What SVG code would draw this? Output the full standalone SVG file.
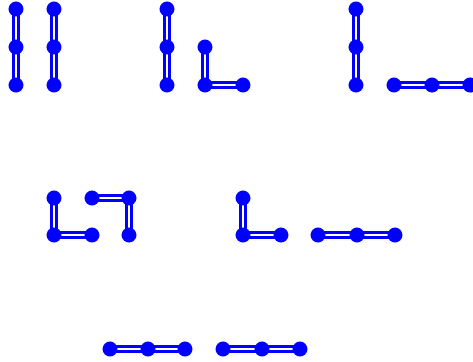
<svg xmlns="http://www.w3.org/2000/svg" width="473" height="362" viewBox="0 0 473 362">
<style>
.e{fill:none;stroke-linecap:butt;stroke-linejoin:miter}
.o{stroke:#0000ff;stroke-width:8}
.i{stroke:#ffffff;stroke-width:2}
.n{fill:#0000ff}
</style>
<defs>
<path id="p" d="M16,9V85 M54,9V85 M167,9V85 M205,47V85H243 M356,9V85 M394,85H470 M54,198V235H92 M92,198H129V235 M243,198V235H281 M318,235H395 M110,349H185 M223,349H300"/>
</defs>
<g id="connectors" class="e">
<use href="#p" class="o"/>
<use href="#p" class="i"/>
</g>
<g id="nodes" class="n">
<g id="a1"><circle cx="16" cy="9" r="7.5"/><circle cx="16" cy="47" r="7.5"/><circle cx="16" cy="85" r="7.5"/></g>
<g id="a2"><circle cx="54" cy="9" r="7.5"/><circle cx="54" cy="47" r="7.5"/><circle cx="54" cy="85" r="7.5"/></g>
<g id="b1"><circle cx="167" cy="9" r="7.5"/><circle cx="167" cy="47" r="7.5"/><circle cx="167" cy="85" r="7.5"/></g>
<g id="b2"><circle cx="205" cy="47" r="7.5"/><circle cx="205" cy="85" r="7.5"/><circle cx="243" cy="85" r="7.5"/></g>
<g id="c1"><circle cx="356" cy="9" r="7.5"/><circle cx="356" cy="47" r="7.5"/><circle cx="356" cy="85" r="7.5"/></g>
<g id="c2"><circle cx="394" cy="85" r="7.5"/><circle cx="432" cy="85" r="7.5"/><circle cx="470" cy="85" r="7.5"/></g>
<g id="d1"><circle cx="54" cy="198" r="7.5"/><circle cx="54" cy="235" r="7.5"/><circle cx="92" cy="235" r="7.5"/></g>
<g id="d2"><circle cx="92" cy="198" r="7.5"/><circle cx="129" cy="198" r="7.5"/><circle cx="129" cy="235" r="7.5"/></g>
<g id="e1"><circle cx="243" cy="198" r="7.5"/><circle cx="243" cy="235" r="7.5"/><circle cx="281" cy="235" r="7.5"/></g>
<g id="e2"><circle cx="318" cy="235" r="7.5"/><circle cx="357" cy="235" r="7.5"/><circle cx="395" cy="235" r="7.5"/></g>
<g id="f1"><circle cx="110" cy="349" r="7.5"/><circle cx="148" cy="349" r="7.5"/><circle cx="185" cy="349" r="7.5"/></g>
<g id="f2"><circle cx="223" cy="349" r="7.5"/><circle cx="262" cy="349" r="7.5"/><circle cx="300" cy="349" r="7.5"/></g>
</g>
</svg>
